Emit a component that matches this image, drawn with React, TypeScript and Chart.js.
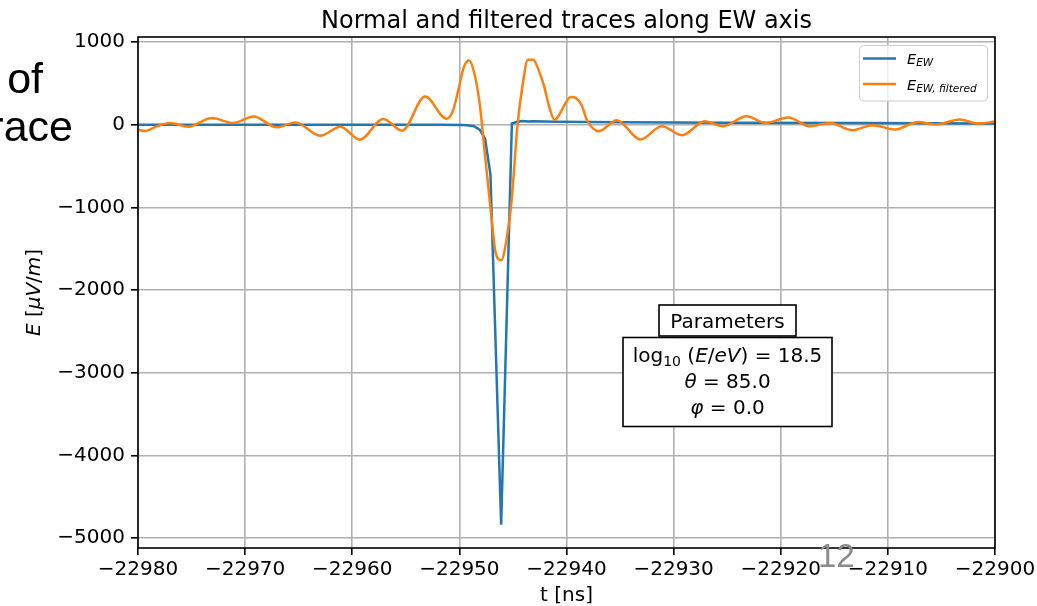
import React, { useEffect, useRef } from 'react';
import { Chart, registerables } from 'chart.js';

Chart.register(...registerables);

// Axis ticks and limits
const xTicks = [-22980, -22970, -22960, -22950, -22940, -22930, -22920, -22910, -22900];
const yTicks = [-5000, -4000, -3000, -2000, -1000, 0, 1000];
const xMin = -22980;
const xMax = -22900;
const yMin = -5121;
const yMax = 1061;

// E_EW trace (time in ns, field in µV/m)
const blueTimes = [-22980, -22965, -22952, -22949.6, -22949.1, -22948.6, -22948.1, -22947.6, -22947.1, -22946.1, -22945.1, -22944.6, -22944.1, -22943.6, -22943.1, -22941, -22935, -22925, -22912, -22900];
const blueValues = [0, 0, -2, -5, -10, -20, -60, -170, -600, -4840, 15, 35, 45, 38, 42, 35, 30, 25, 20, 15];

// E_EW filtered trace
const orangeTimes = [
  -22980.0, -22979.35, -22978.25, -22977.0, -22975.3, -22973.1, -22971.1, -22969.2, -22967.05, -22965.3,
  -22963.0, -22961.1, -22959.3, -22957.1, -22955.35, -22953.2, -22951.2, -22950.6, -22950.1, -22949.6,
  -22949.1, -22948.6, -22948.1, -22947.6, -22947.1, -22946.6, -22946.1, -22945.6, -22945.1, -22944.6,
  -22944.1, -22943.6, -22943.1, -22942.6, -22942.1, -22941.6, -22941.1, -22940.6, -22940.1, -22939.6,
  -22939.1, -22938.6, -22938.1, -22937.0, -22935.3, -22933.1, -22931.1, -22929.2, -22927.1, -22925.4,
  -22923.2, -22921.4, -22919.3, -22917.3, -22915.4, -22913.3, -22911.4, -22909.3, -22907.2, -22905.5,
  -22903.3, -22901.6, -22900.0,
];
const orangeValues = [
  -60, -77, -20, 20, -24, 80, 20, 100, -32, 28,
  -133, -24, -181, 70, -72, 340, 73, 170, 420, 690,
  780, 620, 250, -380, -1000, -1560, -1640, -1390, -880, -40,
  480, 786, 786, 660, 470, 210, 55, 140, 260, 335,
  320, 240, 60, -79, 54, -179, -18, -127, 42, -18,
  103, 22, 87, -18, 22, -66, -6, -58, 34, 2,
  63, 14, 38,
];

const FONT = '"DejaVu Sans", "Liberation Sans", sans-serif';
const f = (size: number, style = 'normal') => `${style} ${size}px ${FONT}`;
const fmt = (v: number) => (v < 0 ? '\u2212' + Math.abs(v) : String(v));

type Run = { t: string; font: string; dy?: number };

function runsWidth(ctx: CanvasRenderingContext2D, runs: Run[]) {
  let w = 0;
  for (const r of runs) {
    ctx.font = r.font;
    w += ctx.measureText(r.t).width;
  }
  return w;
}

function drawRuns(ctx: CanvasRenderingContext2D, runs: Run[], x: number, y: number, align: 'center' | 'left') {
  let cx = align === 'center' ? x - runsWidth(ctx, runs) / 2 : x;
  ctx.textAlign = 'left';
  for (const r of runs) {
    ctx.font = r.font;
    ctx.fillText(r.t, cx, y + (r.dy || 0));
    cx += ctx.measureText(r.t).width;
  }
}

const decorations = {
  id: 'decorations',
  afterDraw(chart: Chart) {
    const ctx = chart.ctx;
    const { left, right, top, bottom } = chart.chartArea;
    ctx.save();

    // axes frame
    ctx.strokeStyle = '#000';
    ctx.lineWidth = 1.6;
    ctx.strokeRect(left, top, right - left, bottom - top);

    ctx.fillStyle = '#000';
    ctx.textBaseline = 'alphabetic';

    // title
    ctx.font = f(24);
    ctx.textAlign = 'center';
    ctx.fillText('Normal and filtered traces along EW axis', (left + right) / 2, 28);

    // x label
    ctx.font = f(20);
    ctx.fillText('t [ns]', (left + right) / 2, 601);

    // y label
    ctx.save();
    ctx.translate(40, (top + bottom) / 2);
    ctx.rotate(-Math.PI / 2);
    drawRuns(ctx, [
      { t: 'E', font: f(20, 'italic') },
      { t: ' [', font: f(20) },
      { t: '\u03bcV', font: f(20, 'italic') },
      { t: '/', font: f(20) },
      { t: 'm', font: f(20, 'italic') },
      { t: ']', font: f(20) },
    ], 0, 0, 'center');
    ctx.restore();

    // legend
    ctx.beginPath();
    ctx.roundRect(859.5, 45.5, 128, 55.5, 4);
    ctx.fillStyle = 'rgba(255,255,255,0.8)';
    ctx.fill();
    ctx.strokeStyle = '#cccccc';
    ctx.lineWidth = 1;
    ctx.stroke();
    ctx.lineWidth = 2.5;
    ctx.strokeStyle = '#1f77b4';
    ctx.beginPath();
    ctx.moveTo(863, 58.5);
    ctx.lineTo(896, 58.5);
    ctx.stroke();
    ctx.strokeStyle = '#ff7f0e';
    ctx.beginPath();
    ctx.moveTo(863, 84);
    ctx.lineTo(896, 84);
    ctx.stroke();
    ctx.fillStyle = '#000';
    drawRuns(ctx, [
      { t: 'E', font: f(14.5, 'italic') },
      { t: 'EW', font: f(10.5, 'italic'), dy: 2.5 },
    ], 907, 63.5, 'left');
    drawRuns(ctx, [
      { t: 'E', font: f(14.5, 'italic') },
      { t: 'EW, filtered', font: f(10.5, 'italic'), dy: 2.5 },
    ], 907, 89.5, 'left');

    // parameters boxes
    ctx.lineWidth = 1.6;
    ctx.strokeStyle = '#000';
    ctx.fillStyle = '#fff';
    ctx.fillRect(659, 305, 137, 31);
    ctx.strokeRect(659, 305, 137, 31);
    ctx.fillRect(623, 337.5, 209, 89);
    ctx.strokeRect(623, 337.5, 209, 89);
    ctx.fillStyle = '#000';
    ctx.font = f(20);
    ctx.textAlign = 'center';
    ctx.fillText('Parameters', 727.5, 328);
    drawRuns(ctx, [
      { t: 'log', font: f(20) },
      { t: '10', font: f(14), dy: 4 },
      { t: ' (', font: f(20) },
      { t: 'E', font: f(20, 'italic') },
      { t: '/', font: f(20) },
      { t: 'eV', font: f(20, 'italic') },
      { t: ') = 18.5', font: f(20) },
    ], 727.5, 362, 'center');
    drawRuns(ctx, [
      { t: '\u03b8', font: f(20, 'italic') },
      { t: ' = 85.0', font: f(20) },
    ], 727.5, 388, 'center');
    drawRuns(ctx, [
      { t: '\u03c6', font: f(20, 'italic') },
      { t: ' = 0.0', font: f(20) },
    ], 727.5, 414, 'center');

    // surrounding slide text
    ctx.fillStyle = '#000';
    ctx.font = '43px "Liberation Sans", Arial, sans-serif';
    ctx.textAlign = 'right';
    ctx.fillText('of', 43, 93);
    ctx.fillText('race', 73, 141);
    ctx.fillStyle = '#8a8a8a';
    ctx.font = '33px "Liberation Sans", Arial, sans-serif';
    ctx.textAlign = 'left';
    ctx.fillText('12', 818, 567);

    ctx.restore();
  },
};

export default function App() {
  const ref = useRef<HTMLCanvasElement>(null);

  useEffect(() => {
    const canvas = ref.current;
    if (!canvas) return;
    const blue = blueTimes.map((t, i) => ({ x: t, y: blueValues[i] }));
    const orange = orangeTimes.map((t, i) => ({ x: t, y: orangeValues[i] }));
    const tickFont = { family: FONT, size: 20 };
    const chart = new Chart(canvas, {
      type: 'line',
      data: {
        datasets: [
          {
            label: 'E_EW,filtered',
            data: orange,
            borderColor: '#ff7f0e',
            borderWidth: 2.5,
            pointRadius: 0,
            cubicInterpolationMode: 'monotone',
            order: 0,
          },
          {
            label: 'E_EW',
            data: blue,
            borderColor: '#1f77b4',
            borderWidth: 2.5,
            pointRadius: 0,
            tension: 0,
            order: 1,
          },
        ],
      },
      options: {
        responsive: false,
        animation: false,
        parsing: true,
        layout: { padding: { top: 37, right: 42, bottom: 0, left: 0 } },
        plugins: {
          legend: { display: false },
          tooltip: { enabled: false },
          title: { display: false },
        },
        scales: {
          x: {
            type: 'linear',
            min: xMin,
            max: xMax,
            afterBuildTicks: (s: any) => {
              s.ticks = xTicks.map((v) => ({ value: v }));
            },
            afterFit: (s: any) => {
              s.height = 58;
              s.paddingLeft = 0;
              s.paddingRight = 0;
            },
            ticks: {
              callback: (v: any) => fmt(Number(v)),
              font: tickFont,
              color: '#000',
              padding: 3,
              maxRotation: 0,
              autoSkip: false,
            },
            grid: {
              color: '#b0b0b0',
              lineWidth: 1.6,
              tickColor: '#000',
              tickWidth: 1.6,
              tickLength: 7,
            },
            border: { display: false },
          },
          y: {
            type: 'linear',
            min: yMin,
            max: yMax,
            afterBuildTicks: (s: any) => {
              s.ticks = yTicks.map((v) => ({ value: v }));
            },
            afterFit: (s: any) => {
              s.width = 138;
              s.paddingTop = 0;
              s.paddingBottom = 0;
            },
            ticks: {
              callback: (v: any) => fmt(Number(v)),
              font: tickFont,
              color: '#000',
              padding: 6,
              autoSkip: false,
            },
            grid: {
              color: '#b0b0b0',
              lineWidth: 1.6,
              tickColor: '#000',
              tickWidth: 1.6,
              tickLength: 7,
            },
            border: { display: false },
          },
        },
      },
      plugins: [decorations],
    });
    return () => chart.destroy();
  }, []);

  return (
    <div style={{ position: 'absolute', left: 0, top: 0, width: 1037, height: 606, background: '#fff' }}>
      <canvas ref={ref} width={1037} height={606} style={{ display: 'block' }} />
    </div>
  );
}
